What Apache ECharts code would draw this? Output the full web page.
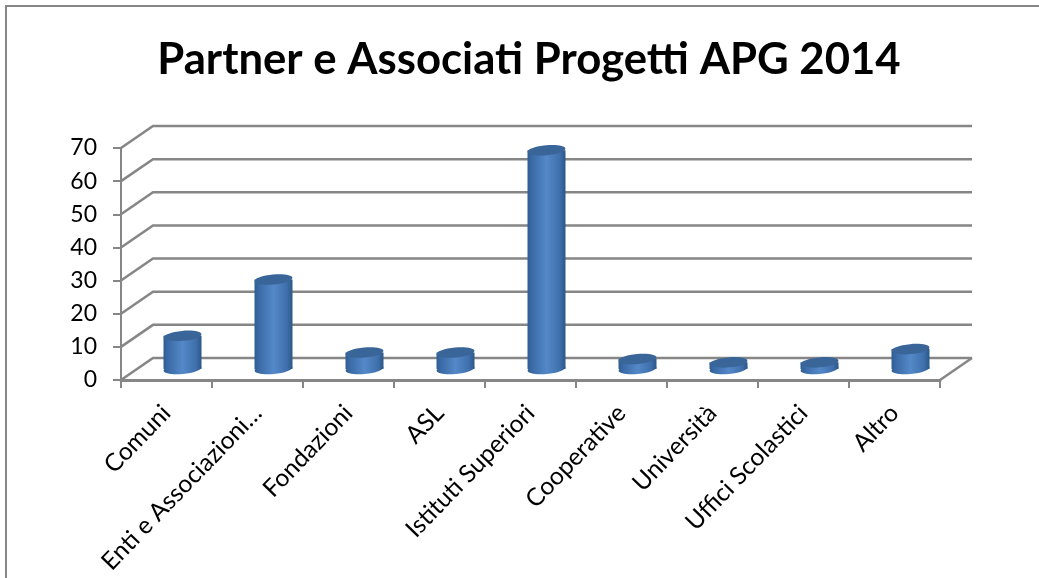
<!DOCTYPE html>
<html>
<head>
<meta charset="utf-8">
<title>Partner e Associati Progetti APG 2014</title>
<script src="https://cdn.jsdelivr.net/npm/echarts@6/dist/echarts.min.js"></script>
<style>
html, body { margin: 0; padding: 0; background: #fff; }
#chart { width: 1039px; height: 578px; }
</style>
</head>
<body>
<div id="chart"></div>
<script>
var categories = ['Comuni', 'Enti e Associazioni…', 'Fondazioni', 'ASL', 'Istituti Superiori', 'Cooperative', 'Università', 'Uffici Scolastici', 'Altro'];
var values = [10, 27, 5, 5, 66, 3, 2, 2, 6];
var yTicks = [0, 10, 20, 30, 40, 50, 60, 70];

// 3d look: the back wall sits this far from the front axes
var depthX = 32, depthY = -22;
var lineColor = '#868686';
var font = 'Lato, "Open Sans", sans-serif';

function renderWall(params, api) {
  var p = api.coord([0, api.value(0)]);
  // x of category index 0 is the middle of the band, go back half a band to the axis
  var band = api.size([1, 0])[0];
  var left = p[0] - band / 2;
  var right = left + band * categories.length;
  var children = [{
    type: 'polyline',
    shape: { points: [[left, p[1]], [left + depthX, p[1] + depthY], [right + depthX, p[1] + depthY]] },
    style: { fill: 'none', stroke: lineColor, lineWidth: 2.5 }
  }];
  if (api.value(0) === 0) {
    children.push({
      type: 'line',
      shape: { x1: right, y1: p[1], x2: right + depthX, y2: p[1] + depthY },
      style: { stroke: lineColor, lineWidth: 2.5 }
    });
  }
  return { type: 'group', children: children };
}

function renderCylinder(params, api) {
  var base = api.coord([api.value(0), 0]);
  var top = api.coord([api.value(0), api.value(1)]);
  var cx = base[0] + depthX / 2;
  var baseY = base[1] + depthY / 2;
  var topY = top[1] + depthY / 2;
  var rx = 19, ry = 5, tilt = 0.09;
  var side = new echarts.graphic.LinearGradient(0, 0, 1, 0, [
    { offset: 0, color: '#2f5c92' },
    { offset: 0.12, color: '#3b6ba7' },
    { offset: 0.5, color: '#5488c8' },
    { offset: 0.85, color: '#3f70ac' },
    { offset: 1, color: '#2c5787' }
  ]);
  return {
    type: 'group',
    children: [
      { type: 'ellipse', x: cx, y: baseY, rotation: tilt, shape: { cx: 0, cy: 0, rx: rx, ry: ry }, style: { fill: side } },
      { type: 'rect', shape: { x: cx - rx, y: topY, width: rx * 2, height: baseY - topY }, style: { fill: side } },
      { type: 'ellipse', x: cx, y: topY, rotation: tilt, shape: { cx: 0, cy: 0, rx: rx, ry: ry }, style: { fill: '#3a6598' } }
    ]
  };
}

var chart = echarts.init(document.getElementById('chart'));
chart.setOption({
  animation: false,
  backgroundColor: '#fff',
  title: {
    text: 'Partner e Associati Progetti APG 2014',
    left: 524,
    top: 33,
    textAlign: 'center',
    textStyle: { fontFamily: font, fontSize: 43.7, fontWeight: 'bold', color: '#000' }
  },
  graphic: [{
    type: 'polyline',
    silent: true,
    shape: { points: [[6, 578], [6, 6], [1039, 6]] },
    style: { fill: 'none', stroke: lineColor, lineWidth: 2 }
  }],
  grid: { left: 121, right: 99, top: 148, bottom: 198 },
  xAxis: {
    type: 'category',
    data: categories,
    boundaryGap: true,
    axisLine: { show: true, lineStyle: { color: lineColor, width: 3 } },
    axisTick: { show: true, length: 8, lineStyle: { color: lineColor, width: 2 } },
    axisLabel: { interval: 0, rotate: 46, margin: 29, fontFamily: font, fontSize: 24.5, color: '#000' }
  },
  yAxis: {
    type: 'value',
    min: 0,
    max: 70,
    interval: 10,
    splitLine: { show: false },
    axisLine: { show: true, lineStyle: { color: lineColor, width: 2 } },
    axisTick: { show: true, length: 8, lineStyle: { color: lineColor, width: 2 } },
    axisLabel: { margin: 24, padding: [4, 0, 0, 0], fontFamily: font, fontSize: 23, color: '#000' }
  },
  series: [
    {
      type: 'custom',
      silent: true,
      z: 1,
      clip: false,
      renderItem: renderWall,
      encode: { x: 1, y: 0 },
      data: yTicks.map(function (t) { return [t, 0]; })
    },
    {
      type: 'custom',
      z: 3,
      clip: false,
      renderItem: renderCylinder,
      encode: { x: 0, y: 1 },
      data: values.map(function (v, i) { return [i, v]; })
    }
  ]
});
</script>
</body>
</html>
